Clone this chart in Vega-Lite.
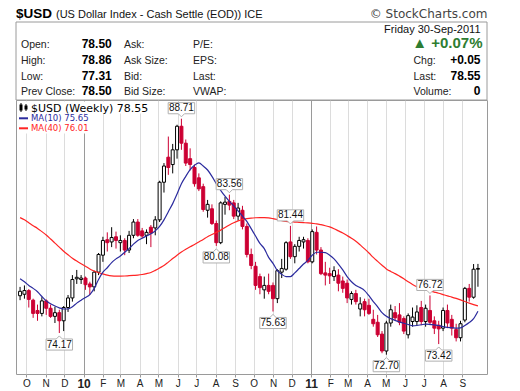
{
"$schema":"https://vega.github.io/schema/vega-lite/v6.json",
"width":471,"height":274,
"autosize":{"type":"none"},
"padding":{"left":16,"top":100,"right":33,"bottom":17},
"background":"white",
"config":{"view":{"stroke":"#9a9a9a"},"font":"Liberation Sans"},
"datasets":{
"candles":[
{"date":"2009-09-21","open":76.7,"high":77.3,"low":76.4,"close":77.0,"ma10":77.85,"ma40":82.0},
{"date":"2009-09-28","open":76.8,"high":77.4,"low":76.5,"close":77.05,"ma10":77.65,"ma40":81.85},
{"date":"2009-10-05","open":77.05,"high":77.15,"low":75.9,"close":76.45,"ma10":77.4,"ma40":81.65},
{"date":"2009-10-12","open":76.4,"high":76.5,"low":75.2,"close":75.5,"ma10":77.2,"ma40":81.45},
{"date":"2009-10-19","open":75.7,"high":76.1,"low":75.0,"close":75.5,"ma10":76.97,"ma40":81.27},
{"date":"2009-10-26","open":75.5,"high":76.6,"low":75.3,"close":76.35,"ma10":76.65,"ma40":81.05},
{"date":"2009-11-02","open":76.35,"high":76.45,"low":75.4,"close":75.85,"ma10":76.35,"ma40":80.82},
{"date":"2009-11-09","open":75.85,"high":76.1,"low":75.2,"close":75.3,"ma10":76.15,"ma40":80.55},
{"date":"2009-11-16","open":75.3,"high":75.95,"low":74.85,"close":75.55,"ma10":76.0,"ma40":80.27},
{"date":"2009-11-23","open":75.55,"high":75.75,"low":74.17,"close":75.0,"ma10":75.88,"ma40":80.0},
{"date":"2009-11-30","open":75.0,"high":76.0,"low":74.3,"close":75.9,"ma10":75.8,"ma40":79.72},
{"date":"2009-12-07","open":75.9,"high":76.75,"low":75.6,"close":76.55,"ma10":75.8,"ma40":79.48},
{"date":"2009-12-14","open":76.55,"high":78.1,"low":76.3,"close":77.8,"ma10":75.95,"ma40":79.25},
{"date":"2009-12-21","open":77.85,"high":78.45,"low":77.5,"close":77.95,"ma10":76.2,"ma40":79.05},
{"date":"2009-12-28","open":77.8,"high":78.1,"low":77.5,"close":77.9,"ma10":76.4,"ma40":78.87},
{"date":"2010-01-04","open":77.9,"high":78.0,"low":77.1,"close":77.45,"ma10":76.58,"ma40":78.7},
{"date":"2010-01-11","open":77.5,"high":77.65,"low":76.75,"close":77.3,"ma10":76.78,"ma40":78.52},
{"date":"2010-01-18","open":77.3,"high":78.4,"low":77.0,"close":78.3,"ma10":77.2,"ma40":78.38},
{"date":"2010-01-25","open":78.3,"high":79.6,"low":78.1,"close":79.5,"ma10":77.8,"ma40":78.26},
{"date":"2010-02-01","open":79.45,"high":80.7,"low":79.0,"close":80.45,"ma10":78.3,"ma40":78.18},
{"date":"2010-02-08","open":80.5,"high":81.0,"low":79.7,"close":80.3,"ma10":78.6,"ma40":78.1},
{"date":"2010-02-15","open":80.35,"high":81.35,"low":80.0,"close":80.65,"ma10":78.95,"ma40":78.05},
{"date":"2010-02-22","open":80.7,"high":81.05,"low":79.9,"close":80.45,"ma10":79.2,"ma40":78.03},
{"date":"2010-03-01","open":80.3,"high":80.8,"low":79.7,"close":80.45,"ma10":79.4,"ma40":78.03},
{"date":"2010-03-08","open":80.45,"high":80.6,"low":79.45,"close":79.8,"ma10":79.65,"ma40":78.04},
{"date":"2010-03-15","open":79.8,"high":81.1,"low":79.6,"close":80.8,"ma10":79.9,"ma40":78.06},
{"date":"2010-03-22","open":80.8,"high":81.9,"low":80.6,"close":81.7,"ma10":80.2,"ma40":78.08},
{"date":"2010-03-29","open":81.7,"high":81.9,"low":80.7,"close":80.8,"ma10":80.45,"ma40":78.1},
{"date":"2010-04-05","open":81.1,"high":81.3,"low":80.6,"close":80.75,"ma10":80.6,"ma40":78.14},
{"date":"2010-04-12","open":80.8,"high":81.2,"low":80.2,"close":81.0,"ma10":80.75,"ma40":78.2},
{"date":"2010-04-19","open":81.35,"high":81.5,"low":80.0,"close":80.95,"ma10":80.9,"ma40":78.28},
{"date":"2010-04-26","open":81.3,"high":82.1,"low":80.8,"close":81.85,"ma10":81.1,"ma40":78.42},
{"date":"2010-05-03","open":81.85,"high":84.5,"low":81.7,"close":84.4,"ma10":81.4,"ma40":78.58},
{"date":"2010-05-10","open":84.4,"high":85.7,"low":83.7,"close":85.5,"ma10":81.85,"ma40":78.75},
{"date":"2010-05-17","open":86.1,"high":87.5,"low":84.9,"close":85.4,"ma10":82.4,"ma40":78.98},
{"date":"2010-05-24","open":85.6,"high":87.0,"low":85.0,"close":86.6,"ma10":82.95,"ma40":79.22},
{"date":"2010-05-31","open":86.6,"high":88.3,"low":86.0,"close":88.2,"ma10":83.6,"ma40":79.45},
{"date":"2010-06-07","open":88.2,"high":88.71,"low":86.6,"close":87.05,"ma10":84.3,"ma40":79.66},
{"date":"2010-06-14","open":87.05,"high":87.3,"low":85.5,"close":85.7,"ma10":84.8,"ma40":79.85},
{"date":"2010-06-21","open":86.0,"high":86.7,"low":85.2,"close":85.6,"ma10":85.25,"ma40":80.02},
{"date":"2010-06-28","open":85.4,"high":85.6,"low":84.1,"close":84.3,"ma10":85.55,"ma40":80.18},
{"date":"2010-07-05","open":84.7,"high":85.0,"low":83.8,"close":83.95,"ma10":85.72,"ma40":80.35},
{"date":"2010-07-12","open":84.1,"high":84.3,"low":82.4,"close":82.55,"ma10":85.5,"ma40":80.52},
{"date":"2010-07-19","open":82.5,"high":83.2,"low":82.0,"close":82.9,"ma10":85.23,"ma40":80.7},
{"date":"2010-07-26","open":82.6,"high":82.9,"low":81.5,"close":81.6,"ma10":84.8,"ma40":80.85},
{"date":"2010-08-02","open":81.6,"high":81.8,"low":80.08,"close":80.3,"ma10":84.3,"ma40":81.0},
{"date":"2010-08-09","open":80.3,"high":83.1,"low":80.2,"close":83.0,"ma10":83.85,"ma40":81.15},
{"date":"2010-08-16","open":82.9,"high":83.4,"low":82.2,"close":83.05,"ma10":83.45,"ma40":81.33},
{"date":"2010-08-23","open":83.1,"high":83.56,"low":82.5,"close":82.85,"ma10":83.1,"ma40":81.5},
{"date":"2010-08-30","open":83.0,"high":83.2,"low":81.9,"close":82.1,"ma10":82.8,"ma40":81.65},
{"date":"2010-09-06","open":82.1,"high":83.0,"low":81.8,"close":82.65,"ma10":82.45,"ma40":81.78},
{"date":"2010-09-13","open":82.5,"high":82.8,"low":81.2,"close":81.4,"ma10":82.1,"ma40":81.87},
{"date":"2010-09-20","open":81.4,"high":81.6,"low":79.3,"close":79.5,"ma10":81.75,"ma40":81.93},
{"date":"2010-09-27","open":79.5,"high":79.9,"low":78.5,"close":78.75,"ma10":81.25,"ma40":81.97},
{"date":"2010-10-04","open":78.7,"high":79.0,"low":77.1,"close":77.4,"ma10":80.75,"ma40":81.99},
{"date":"2010-10-11","open":78.0,"high":78.2,"low":76.8,"close":77.25,"ma10":80.25,"ma40":82.0},
{"date":"2010-10-18","open":77.1,"high":78.0,"low":76.5,"close":77.4,"ma10":79.9,"ma40":82.0},
{"date":"2010-10-25","open":77.4,"high":78.2,"low":76.8,"close":77.0,"ma10":79.3,"ma40":81.98},
{"date":"2010-11-01","open":77.4,"high":77.6,"low":75.63,"close":76.5,"ma10":78.9,"ma40":81.93},
{"date":"2010-11-08","open":76.5,"high":78.5,"low":76.2,"close":78.4,"ma10":78.4,"ma40":81.87},
{"date":"2010-11-15","open":78.3,"high":79.2,"low":77.9,"close":78.55,"ma10":78.15,"ma40":81.8},
{"date":"2010-11-22","open":78.5,"high":80.4,"low":78.4,"close":80.3,"ma10":78.0,"ma40":81.75},
{"date":"2010-11-29","open":80.35,"high":81.44,"low":79.2,"close":79.35,"ma10":78.0,"ma40":81.72},
{"date":"2010-12-06","open":79.35,"high":80.2,"low":78.9,"close":80.05,"ma10":78.25,"ma40":81.7},
{"date":"2010-12-13","open":80.05,"high":80.7,"low":79.7,"close":80.45,"ma10":78.55,"ma40":81.68},
{"date":"2010-12-20","open":80.35,"high":80.7,"low":79.9,"close":80.5,"ma10":78.85,"ma40":81.66},
{"date":"2010-12-27","open":80.45,"high":80.6,"low":78.9,"close":79.0,"ma10":79.1,"ma40":81.64},
{"date":"2011-01-03","open":79.0,"high":81.2,"low":78.9,"close":81.05,"ma10":79.45,"ma40":81.61},
{"date":"2011-01-10","open":81.0,"high":81.4,"low":79.5,"close":79.8,"ma10":79.65,"ma40":81.58},
{"date":"2011-01-17","open":79.8,"high":80.0,"low":78.1,"close":78.2,"ma10":79.65,"ma40":81.52},
{"date":"2011-01-24","open":78.25,"high":79.0,"low":77.4,"close":78.1,"ma10":79.62,"ma40":81.45},
{"date":"2011-01-31","open":78.2,"high":78.6,"low":77.5,"close":78.05,"ma10":79.45,"ma40":81.37},
{"date":"2011-02-07","open":78.0,"high":78.7,"low":77.7,"close":78.4,"ma10":79.2,"ma40":81.25},
{"date":"2011-02-14","open":78.1,"high":78.5,"low":77.0,"close":77.55,"ma10":78.85,"ma40":81.1},
{"date":"2011-02-21","open":77.7,"high":78.0,"low":76.9,"close":77.2,"ma10":78.45,"ma40":80.95},
{"date":"2011-02-28","open":77.55,"high":77.8,"low":76.2,"close":76.55,"ma10":78.0,"ma40":80.78},
{"date":"2011-03-07","open":76.45,"high":77.0,"low":76.1,"close":76.85,"ma10":77.65,"ma40":80.6},
{"date":"2011-03-14","open":76.85,"high":77.1,"low":76.1,"close":76.3,"ma10":77.4,"ma40":80.4},
{"date":"2011-03-21","open":75.8,"high":76.6,"low":75.3,"close":76.15,"ma10":77.25,"ma40":80.15},
{"date":"2011-03-28","open":76.3,"high":76.5,"low":75.3,"close":75.75,"ma10":77.05,"ma40":79.88},
{"date":"2011-04-04","open":76.05,"high":76.5,"low":75.4,"close":75.5,"ma10":76.7,"ma40":79.6},
{"date":"2011-04-11","open":75.1,"high":75.75,"low":74.6,"close":74.8,"ma10":76.3,"ma40":79.3},
{"date":"2011-04-18","open":74.9,"high":75.4,"low":73.9,"close":74.05,"ma10":75.95,"ma40":79.03},
{"date":"2011-04-25","open":74.1,"high":74.3,"low":72.8,"close":72.95,"ma10":75.55,"ma40":78.77},
{"date":"2011-05-02","open":72.95,"high":75.0,"low":72.7,"close":74.85,"ma10":75.3,"ma40":78.52},
{"date":"2011-05-09","open":74.85,"high":76.1,"low":74.6,"close":75.75,"ma10":75.15,"ma40":78.35},
{"date":"2011-05-16","open":75.55,"high":76.0,"low":75.0,"close":75.2,"ma10":75.03,"ma40":78.2},
{"date":"2011-05-23","open":75.4,"high":76.2,"low":74.7,"close":74.9,"ma10":74.93,"ma40":78.03},
{"date":"2011-05-30","open":75.15,"high":75.3,"low":74.1,"close":74.3,"ma10":74.83,"ma40":77.85},
{"date":"2011-06-06","open":74.05,"high":75.5,"low":73.8,"close":75.35,"ma10":74.75,"ma40":77.65},
{"date":"2011-06-13","open":74.95,"high":75.9,"low":74.6,"close":75.25,"ma10":74.66,"ma40":77.46},
{"date":"2011-06-20","open":74.95,"high":76.05,"low":74.7,"close":75.6,"ma10":74.68,"ma40":77.31},
{"date":"2011-06-27","open":75.9,"high":76.35,"low":74.7,"close":74.95,"ma10":74.73,"ma40":77.2},
{"date":"2011-07-04","open":74.95,"high":76.1,"low":74.6,"close":75.85,"ma10":74.78,"ma40":77.11},
{"date":"2011-07-11","open":75.7,"high":76.72,"low":74.7,"close":74.9,"ma10":74.76,"ma40":77.03},
{"date":"2011-07-18","open":75.0,"high":75.3,"low":74.1,"close":74.5,"ma10":74.72,"ma40":76.95},
{"date":"2011-07-25","open":74.7,"high":75.0,"low":73.42,"close":74.45,"ma10":74.68,"ma40":76.87},
{"date":"2011-08-01","open":74.5,"high":75.9,"low":74.3,"close":75.7,"ma10":74.6,"ma40":76.78},
{"date":"2011-08-08","open":75.7,"high":76.1,"low":74.5,"close":74.85,"ma10":74.55,"ma40":76.69},
{"date":"2011-08-15","open":75.1,"high":75.4,"low":74.0,"close":74.5,"ma10":74.53,"ma40":76.61},
{"date":"2011-08-22","open":74.4,"high":74.8,"low":73.6,"close":73.85,"ma10":74.5,"ma40":76.52},
{"date":"2011-08-29","open":73.85,"high":75.0,"low":73.6,"close":74.8,"ma10":74.52,"ma40":76.42},
{"date":"2011-09-05","open":75.05,"high":77.3,"low":74.9,"close":77.2,"ma10":74.68,"ma40":76.31},
{"date":"2011-09-12","open":77.2,"high":77.5,"low":76.3,"close":76.6,"ma10":74.88,"ma40":76.2},
{"date":"2011-09-19","open":76.6,"high":78.85,"low":76.5,"close":78.5,"ma10":75.15,"ma40":76.1},
{"date":"2011-09-26","open":78.5,"high":78.86,"low":77.31,"close":78.55,"ma10":75.65,"ma40":76.01}
],
"ann":[
{"date":"2009-11-23","price":74.17,"kind":"low"},
{"date":"2010-06-07","price":88.71,"kind":"high"},
{"date":"2010-08-02","price":80.08,"kind":"low"},
{"date":"2010-08-23","price":83.56,"kind":"high"},
{"date":"2010-11-01","price":75.63,"kind":"low"},
{"date":"2010-11-29","price":81.44,"kind":"high"},
{"date":"2011-05-02","price":72.70,"kind":"low"},
{"date":"2011-07-11","price":76.72,"kind":"high"},
{"date":"2011-07-25","price":73.42,"kind":"low"}
],
"header":[
{"col":0,"row":0,"t":"$USD","k":"title"},
{"col":1,"row":0,"t":"(US Dollar Index - Cash Settle (EOD)) ICE","k":"sub"},
{"col":9,"row":0,"t":"© StockCharts.com","k":"credit"},
{"col":7,"row":2,"t":"Friday  30-Sep-2011","k":"date"},
{"col":2,"row":3,"t":"Open:","k":"lab"},{"col":3,"row":3,"t":"78.50","k":"val"},{"col":4,"row":3,"t":"Ask:","k":"lab"},{"col":5,"row":3,"t":"P/E:","k":"lab"},{"col":8,"row":3,"t":"▲ +0.07%","k":"pct"},
{"col":2,"row":4,"t":"High:","k":"lab"},{"col":3,"row":4,"t":"78.86","k":"val"},{"col":4,"row":4,"t":"Ask Size:","k":"lab"},{"col":5,"row":4,"t":"EPS:","k":"lab"},{"col":6,"row":4,"t":"Chg:","k":"lab"},{"col":7,"row":4,"t":"+0.05","k":"rval"},
{"col":2,"row":5,"t":"Low:","k":"lab"},{"col":3,"row":5,"t":"77.31","k":"val"},{"col":4,"row":5,"t":"Bid:","k":"lab"},{"col":5,"row":5,"t":"Last:","k":"lab"},{"col":6,"row":5,"t":"Last:","k":"lab"},{"col":7,"row":5,"t":"78.55","k":"rval"},
{"col":2,"row":6,"t":"Prev Close:","k":"lab"},{"col":3,"row":6,"t":"78.50","k":"val"},{"col":4,"row":6,"t":"Bid Size:","k":"lab"},{"col":5,"row":6,"t":"VWAP:","k":"lab"},{"col":6,"row":6,"t":"Volume:","k":"lab"},{"col":7,"row":6,"t":"0","k":"rval"},
{"col":13,"row":8,"t":"$USD (Weekly) 78.55","k":"leg1"},
{"col":13,"row":9,"t":"MA(10) 75.65","k":"leg2"},
{"col":13,"row":10,"t":"MA(40) 76.01","k":"leg3"},
{"col":0,"col2":10,"row":1,"row2":7,"k":"box"},
{"col":14,"col2":15,"row":11,"row2":12,"k":"bg"},
{"col":14,"col2":16,"row":12,"row2":13,"k":"bg"},
{"col":11,"col2":12,"row":9,"k":"sym10"},
{"col":11,"col2":12,"row":10,"k":"sym40"},
{"col":21,"row":18,"row2":19,"k":"icow"},
{"col":22,"row":20,"row2":21,"k":"icow"},
{"col":17,"col2":18,"row":14,"row2":15,"k":"icob"},
{"col":19,"col2":20,"row":16,"row2":17,"k":"icob"}
]
},
"layer":[
{
"data":{"name":"candles"},
"encoding":{
"x":{"field":"date","type":"temporal",
"scale":{"type":"utc","nice":false,"domain":[{"year":2009,"month":9,"date":22,"hours":12,"utc":true},{"year":2011,"month":10,"date":2,"hours":12,"utc":true}]},
"axis":{"title":null,"domain":false,"grid":true,
"values":[{"year":2009,"month":10,"date":1,"utc":true},{"year":2009,"month":11,"date":1,"utc":true},{"year":2009,"month":12,"date":1,"utc":true},{"year":2010,"month":1,"date":1,"utc":true},{"year":2010,"month":2,"date":1,"utc":true},{"year":2010,"month":3,"date":1,"utc":true},{"year":2010,"month":4,"date":1,"utc":true},{"year":2010,"month":5,"date":1,"utc":true},{"year":2010,"month":6,"date":1,"utc":true},{"year":2010,"month":7,"date":1,"utc":true},{"year":2010,"month":8,"date":1,"utc":true},{"year":2010,"month":9,"date":1,"utc":true},{"year":2010,"month":10,"date":1,"utc":true},{"year":2010,"month":11,"date":1,"utc":true},{"year":2010,"month":12,"date":1,"utc":true},{"year":2011,"month":1,"date":1,"utc":true},{"year":2011,"month":2,"date":1,"utc":true},{"year":2011,"month":3,"date":1,"utc":true},{"year":2011,"month":4,"date":1,"utc":true},{"year":2011,"month":5,"date":1,"utc":true},{"year":2011,"month":6,"date":1,"utc":true},{"year":2011,"month":7,"date":1,"utc":true},{"year":2011,"month":8,"date":1,"utc":true},{"year":2011,"month":9,"date":1,"utc":true}],
"labelExpr":"utcmonth(datum.value)==0 ? utcFormat(datum.value,'%y') : slice(utcFormat(datum.value,'%b'),0,1)",
"labelFont":"Liberation Sans","labelColor":"#222222",
"labelFontSize":{"condition":{"test":"utcmonth(datum.value)==0","value":12},"value":10},
"labelFontWeight":{"condition":{"test":"utcmonth(datum.value)==0","value":"bold"},"value":"normal"},
"gridColor":{"condition":{"test":"utcmonth(datum.value)==0","value":"#9a9a9a"},"value":"#dcdcdc"},
"tickSize":3,"tickColor":"#9a9a9a","labelPadding":1,"labelFlush":false,"labelOverlap":false}}
},
"layer":[
{"mark":{"type":"rule","clip":true,"strokeWidth":1},
"encoding":{
"y":{"field":"low","type":"quantitative","scale":{"domain":[71.39,89.98],"nice":false,"zero":false},
"axis":{"title":null,"orient":"right","domain":false,"grid":true,"gridColor":"#dcdcdc","values":[72,73,74,75,76,77,78,79,80,81,82,83,84,85,86,87,88,89],"tickSize":3,"tickColor":"#555555","labelPadding":2,"labelFont":"Liberation Sans","labelFontSize":10.5,"labelColor":"#222222","labelFlush":false,"labelOverlap":false}},
"y2":{"field":"high"},
"stroke":{"condition":{"test":"datum.close < datum.open","value":"#cc0033"},"value":"#000000"}}},
{"mark":{"type":"bar","clip":true,"width":3,"strokeWidth":1},
"encoding":{
"y":{"field":"open","type":"quantitative","scale":{"domain":[71.39,89.98],"nice":false,"zero":false},"axis":null},
"y2":{"field":"close"},
"fill":{"condition":{"test":"datum.close < datum.open","value":"#cc0033"},"value":"#ffffff"},
"stroke":{"condition":{"test":"datum.close < datum.open","value":"#cc0033"},"value":"#000000"}}},
{"mark":{"type":"line","clip":true,"stroke":"#ff2424","strokeWidth":1.2,"interpolate":"monotone"},
"encoding":{"y":{"field":"ma40","type":"quantitative","scale":{"domain":[71.39,89.98],"nice":false,"zero":false},"axis":null}}},
{"mark":{"type":"line","clip":true,"stroke":"#2b2b9e","strokeWidth":1.2,"interpolate":"monotone"},
"encoding":{"y":{"field":"ma10","type":"quantitative","scale":{"domain":[71.39,89.98],"nice":false,"zero":false},"axis":null}}},
{"data":{"name":"ann"},"transform":[{"filter":"datum.kind=='high'"}],
"mark":{"type":"point","shape":"M-1,-0.42L1,-0.42L1,0.42L0.23,0.42L0,0.65L-0.23,0.42L-1,0.42Z","size":700,"filled":true,"fill":"#ffffff","stroke":"#b0b0b0","strokeWidth":1,"opacity":1,"yOffset":-10.5},
"encoding":{"y":{"field":"price","type":"quantitative","scale":{"domain":[71.39,89.98],"nice":false,"zero":false},"axis":null}}},
{"data":{"name":"ann"},"transform":[{"filter":"datum.kind=='high'"}],
"mark":{"type":"text","font":"Liberation Sans","fontSize":10,"color":"#111111","align":"center","baseline":"middle","yOffset":-10.5},
"encoding":{"y":{"field":"price","type":"quantitative","scale":{"domain":[71.39,89.98],"nice":false,"zero":false},"axis":null},"text":{"field":"price","type":"quantitative","format":".2f"}}},
{"data":{"name":"ann"},"transform":[{"filter":"datum.kind=='low'"}],
"mark":{"type":"point","shape":"M-1,0.42L1,0.42L1,-0.42L0.23,-0.42L0,-0.65L-0.23,-0.42L-1,-0.42Z","size":700,"filled":true,"fill":"#ffffff","stroke":"#b0b0b0","strokeWidth":1,"opacity":1,"yOffset":11.5},
"encoding":{"y":{"field":"price","type":"quantitative","scale":{"domain":[71.39,89.98],"nice":false,"zero":false},"axis":null}}},
{"data":{"name":"ann"},"transform":[{"filter":"datum.kind=='low'"}],
"mark":{"type":"text","font":"Liberation Sans","fontSize":10,"color":"#111111","align":"center","baseline":"middle","yOffset":11.5},
"encoding":{"y":{"field":"price","type":"quantitative","scale":{"domain":[71.39,89.98],"nice":false,"zero":false},"axis":null},"text":{"field":"price","type":"quantitative","format":".2f"}}}
]
},
{
"data":{"name":"header"},
"encoding":{
"x":{"field":"col","type":"quantitative","axis":null,"scale":{"domain":[0,1,2,3,4,5,6,7,8,9,10,11,12,13,14,15,16,17,18,19,20,21,22],"range":[0,40,5,65.7,108,177,397.5,464.5,466.5,471.5,471,3,12,15,1,136,74,3.5,6.5,8.5,11.5,5,10],"nice":false,"zero":false}},
"y":{"field":"row","type":"quantitative","axis":null,"scale":{"domain":[0,1,2,3,4,5,6,7,8,9,10,11,12,13,14,15,16,17,18,19,20,21],"range":[-82.5,-78,-67,-52.3,-35.7,-20.2,-5.5,0,11.7,21.3,31.3,1.5,13.5,33.5,4.5,10.5,5.5,9.5,3,12,4,11],"nice":false,"zero":false}}
},
"layer":[
{"transform":[{"filter":"datum.k=='box'"}],"mark":{"type":"rect","fill":"transparent","stroke":"#9a9a9a","strokeWidth":1},
"encoding":{"x2":{"field":"col2"},"y2":{"field":"row2"}}},
{"transform":[{"filter":"datum.k=='bg'"}],"mark":{"type":"rect","fill":"#ffffff","strokeWidth":0},
"encoding":{"x2":{"field":"col2"},"y2":{"field":"row2"}}},
{"transform":[{"filter":"datum.k=='icow'"}],"mark":{"type":"rule","stroke":"#000000","strokeWidth":1},
"encoding":{"y2":{"field":"row2"}}},
{"transform":[{"filter":"datum.k=='icob'"}],"mark":{"type":"rect","fill":"#000000","strokeWidth":0},
"encoding":{"x2":{"field":"col2"},"y2":{"field":"row2"}}},
{"transform":[{"filter":"datum.k=='sym10'"}],"mark":{"type":"rule","stroke":"#2b2b9e","strokeWidth":2,"yOffset":-3},
"encoding":{"x2":{"field":"col2"}}},
{"transform":[{"filter":"datum.k=='sym40'"}],"mark":{"type":"rule","stroke":"#ff2424","strokeWidth":2,"yOffset":-3},
"encoding":{"x2":{"field":"col2"}}},
{"transform":[{"filter":"datum.k=='title'"}],"mark":{"type":"text","font":"Liberation Sans","fontSize":13.5,"fontWeight":"bold","align":"left","baseline":"alphabetic","color":"#000000"},"encoding":{"text":{"field":"t"}}},
{"transform":[{"filter":"datum.k=='sub'"}],"mark":{"type":"text","font":"Liberation Sans","fontSize":11,"align":"left","baseline":"alphabetic","color":"#111111"},"encoding":{"text":{"field":"t"}}},
{"transform":[{"filter":"datum.k=='credit'"}],"mark":{"type":"text","font":"DejaVu Sans","fontSize":12,"align":"right","baseline":"alphabetic","color":"#444444"},"encoding":{"text":{"field":"t"}}},
{"transform":[{"filter":"datum.k=='date'"}],"mark":{"type":"text","font":"Liberation Sans","fontSize":11,"align":"right","baseline":"alphabetic","color":"#111111"},"encoding":{"text":{"field":"t"}}},
{"transform":[{"filter":"datum.k=='lab'"}],"mark":{"type":"text","font":"Liberation Sans","fontSize":10.5,"align":"left","baseline":"alphabetic","color":"#222222"},"encoding":{"text":{"field":"t"}}},
{"transform":[{"filter":"datum.k=='val'"}],"mark":{"type":"text","font":"Liberation Sans","fontSize":12,"fontWeight":"bold","align":"left","baseline":"alphabetic","color":"#000000"},"encoding":{"text":{"field":"t"}}},
{"transform":[{"filter":"datum.k=='rval'"}],"mark":{"type":"text","font":"Liberation Sans","fontSize":12,"fontWeight":"bold","align":"right","baseline":"alphabetic","color":"#000000"},"encoding":{"text":{"field":"t"}}},
{"transform":[{"filter":"datum.k=='pct'"}],"mark":{"type":"text","font":"Liberation Sans","fontSize":15,"fontWeight":"bold","align":"right","baseline":"alphabetic","color":"#2e7d32"},"encoding":{"text":{"field":"t"}}},
{"transform":[{"filter":"datum.k=='leg1'"}],"mark":{"type":"text","font":"DejaVu Sans","fontSize":11,"align":"left","baseline":"alphabetic","color":"#000000"},"encoding":{"text":{"field":"t"}}},
{"transform":[{"filter":"datum.k=='leg2'"}],"mark":{"type":"text","font":"DejaVu Sans","fontSize":8.5,"align":"left","baseline":"alphabetic","color":"#2b2b9e"},"encoding":{"text":{"field":"t"}}},
{"transform":[{"filter":"datum.k=='leg3'"}],"mark":{"type":"text","font":"DejaVu Sans","fontSize":8.5,"align":"left","baseline":"alphabetic","color":"#ff2424"},"encoding":{"text":{"field":"t"}}}
]
}
],
"resolve":{"scale":{"x":"independent","y":"independent"}}
}
